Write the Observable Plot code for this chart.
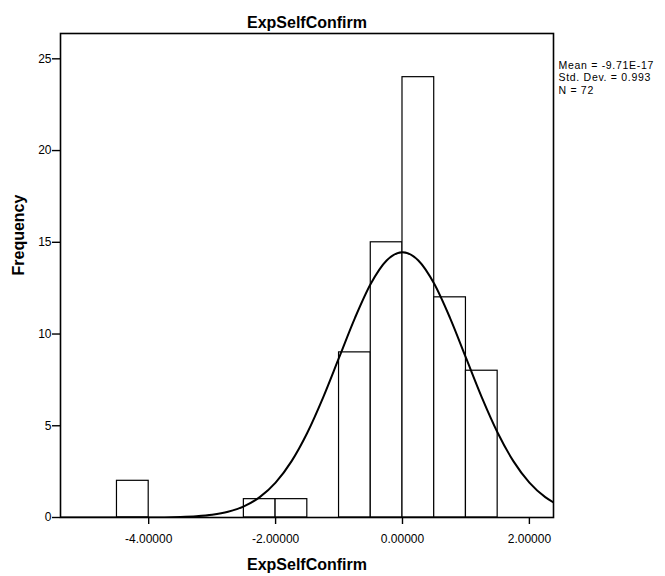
<!DOCTYPE html>
<html>
<head>
<meta charset="utf-8">
<script src="https://cdn.jsdelivr.net/npm/d3@7"></script>
<script src="https://cdn.jsdelivr.net/npm/@observablehq/plot@0.6"></script>
<style>
  html, body { margin: 0; padding: 0; background: #fff; }
  #chart svg { display: block; }
</style>
</head>
<body>
<div id="chart"></div>
<script>
// Histogram bins (left edge, width 0.5) and frequencies
const binStart = [-4.5, -2.5, -2.0, -1.0, -0.5, 0.0, 0.5, 1.0];
const binWidth = 0.5;
const counts = [2, 1, 1, 9, 15, 24, 12, 8];

// Normal curve points
const curveX = [-5.39, -4.5, -4, -3.5, -3.25, -3, -2.75, -2.5, -2.25, -2, -1.75, -1.5, -1.25, -1, -0.75, -0.5, -0.25, 0, 0.25, 0.5, 0.75, 1, 1.25, 1.5, 1.75, 2, 2.25, 2.38];
const curveY = [0, 0, 0, 0.03, 0.07, 0.15, 0.31, 0.61, 1.11, 1.90, 3.06, 4.62, 6.55, 8.71, 10.87, 12.74, 14.01, 14.46, 14.01, 12.74, 10.87, 8.71, 6.55, 4.62, 3.06, 1.90, 1.11, 0.82];

const xTicks = [-4, -2, 0, 2];
const yTicks = [0, 5, 10, 15, 20, 25];
const titleText = "ExpSelfConfirm";
const xLabel = "ExpSelfConfirm";
const yLabel = "Frequency";
const statLines = ["Mean = -9.71E-17", "Std. Dev. = 0.993", "N = 72"];

const bins = binStart.map((s, i) => ({x1: s, x2: s + binWidth, y: counts[i]}));
const curve = curveX.map((x, i) => ({x, y: curveY[i]}));
const stats = statLines.map((t, i) => ({t, i}));

const font = "'Liberation Sans', Arial, Helvetica, sans-serif";

const statMark = (i) => Plot.text(stats.filter(d => d.i === i), {
  text: "t", frameAnchor: "top-right", dx: 5, dy: 28 + i * 12.5,
  textAnchor: "start", fontSize: 10.5, fill: "#000"
});

const chart = Plot.plot({
  width: 665,
  height: 576,
  marginTop: 33,
  marginBottom: 59,
  marginLeft: 60,
  marginRight: 112,
  style: {fontFamily: font, background: "#fff", color: "#000"},
  x: {domain: [-5.39, 2.38], ticks: xTicks, tickFormat: d => d.toFixed(5)},
  y: {domain: [0, 26.38], ticks: yTicks},
  marks: [
    Plot.rectY(bins, {x1: "x1", x2: "x2", y: "y", fill: "#fff", stroke: "#000", strokeWidth: 1.2}),
    Plot.line(curve, {x: "x", y: "y", stroke: "#000", strokeWidth: 2, curve: "monotone-x", clip: true}),
    Plot.frame({stroke: "#000", strokeWidth: 1.6}),
    Plot.axisX({ticks: xTicks, tickFormat: d => d.toFixed(5), tickSize: 7, tickPadding: 10, fontSize: 12, label: null, strokeWidth: 1.4}),
    Plot.axisY({ticks: yTicks, tickSize: 8, tickPadding: 1, fontSize: 12, label: null, strokeWidth: 1.4}),
    Plot.text([titleText], {frameAnchor: "top", dy: -17, fontSize: 16, fontWeight: "bold", fill: "#000"}),
    Plot.text([xLabel], {frameAnchor: "bottom", dy: 52, fontSize: 16, fontWeight: "bold", fill: "#000"}),
    Plot.text([yLabel], {frameAnchor: "left", dx: -42, rotate: -90, fontSize: 16, fontWeight: "bold", fill: "#000"}),
    statMark(0),
    statMark(1),
    statMark(2)
  ]
});
document.getElementById("chart").appendChild(chart);

// slightly widened spacing for the statistics text, as in the original
d3.select(chart).selectAll("text").filter(function() {
  return statLines.includes(this.textContent);
}).attr("letter-spacing", "0.7px");
</script>
</body>
</html>
